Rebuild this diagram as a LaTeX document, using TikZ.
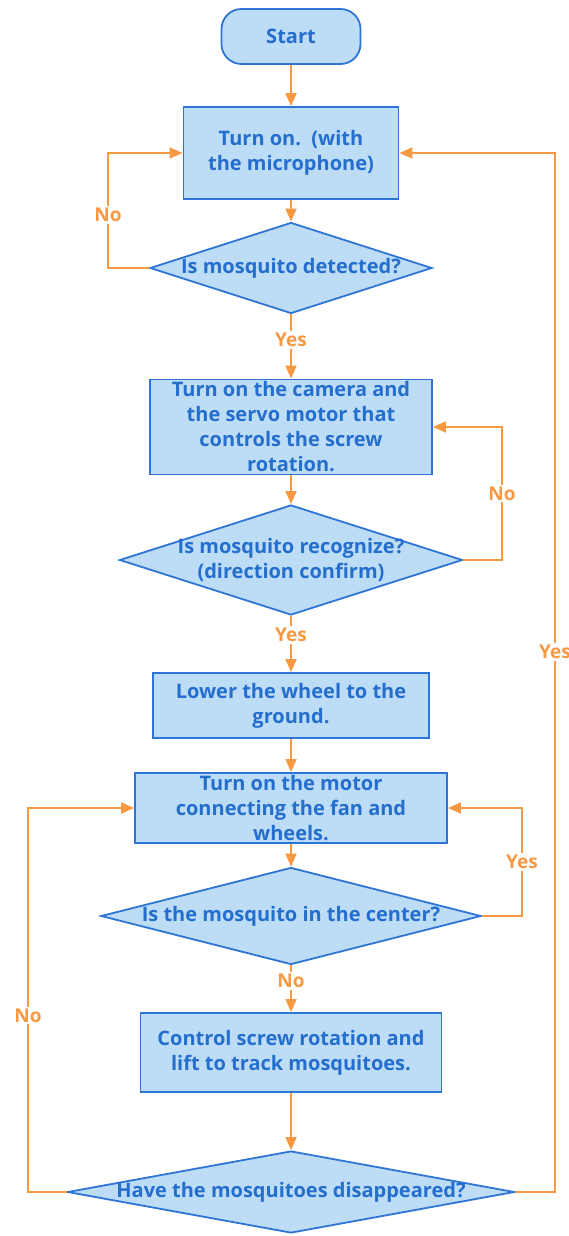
\documentclass[tikz,border=0pt]{standalone}
\usepackage{fontspec}
\setmainfont{Open Sans}
\usetikzlibrary{arrows.meta,shapes.geometric}
\definecolor{bfill}{RGB}{189,220,245}
\definecolor{bline}{RGB}{46,117,214}
\definecolor{btext}{RGB}{36,110,205}
\definecolor{org}{RGB}{247,153,66}
\tikzset{
  shp/.style={draw=bline,fill=bfill,line width=1.8pt,inner sep=0pt},
  procbox/.style={shp,rectangle},
  decide/.style={shp,diamond},
  termbox/.style={shp,rectangle,rounded corners=20pt},
  txt/.style={text=btext,font=\bfseries\fontsize{20}{25}\selectfont,align=center,inner sep=0pt},
  flow/.style={draw=org,line width=1.8pt,-{Triangle[length=13pt,width=11pt]}},
  lbl/.style={text=org,fill=white,font=\bfseries\fontsize{19}{22}\selectfont,inner sep=2pt}
}
\begin{document}
\begin{tikzpicture}[x=1pt,y=-1pt]
\useasboundingbox (0,0) rectangle (569,1236);
% shapes
\node[termbox,minimum width=139pt,minimum height=55pt] (start) at (291,36.5) {};
\node[procbox,minimum width=215pt,minimum height=92pt] (b1) at (291,153) {};
\node[decide,minimum width=282pt,minimum height=91pt] (d1) at (291,268) {};
\node[procbox,minimum width=282pt,minimum height=95pt] (b2) at (291,427) {};
\node[decide,minimum width=343pt,minimum height=110pt] (d2) at (291,560) {};
\node[procbox,minimum width=276pt,minimum height=65pt] (b3) at (291,705.5) {};
\node[procbox,minimum width=312pt,minimum height=70pt] (b4) at (291,808) {};
\node[decide,minimum width=380pt,minimum height=97pt] (d3) at (291,916) {};
\node[procbox,minimum width=301pt,minimum height=79pt] (b5) at (291,1052.5) {};
\node[decide,minimum width=447pt,minimum height=82pt] (d4) at (291,1192) {};
% texts
\node[txt] (tstart) at (start) {Start};
\node[txt] (tb1) at (b1) {Turn on.\ \ (with\\the microphone)};
\node[txt] (td1) at (d1) {Is mosquito detected?};
\node[txt] (tb2) at (b2) {Turn on the camera and\\the servo motor that\\controls the screw\\rotation.};
\node[txt] (td2) at (d2) {Is mosquito recognize?\\(direction confirm)};
\node[txt] (tb3) at (b3) {Lower the wheel to the\\ground.};
\node[txt] (tb4) at (b4) {Turn on the motor\\connecting the fan and\\wheels.};
\node[txt] (td3) at (d3) {Is the mosquito in the center?};
\node[txt] (tb5) at (b5) {Control screw rotation and\\lift to track mosquitoes.};
\node[txt] (td4) at (d4) {Have the mosquitoes disappeared?};
% straight flows
\draw[flow] (start) -- (b1);
\draw[flow] (b1) -- (d1);
\draw[flow] (d1) -- node[lbl,pos=0.4] (l1) {Yes} (b2);
\draw[flow] (b2) -- (d2);
\draw[flow] (d2) -- node[lbl,pos=0.34] (l2) {Yes} (b3);
\draw[flow] (b3) -- (b4);
\draw[flow] (b4) -- (d3);
\draw[flow] (d3) -- node[lbl,pos=0.34] (l3) {No} (b5);
\draw[flow] (b5) -- (d4);
% loops
\draw[flow] (d1.west) -| (108,153) node[pos=0.73,lbl] (l4) {No} -- (b1.west);
\draw[flow] (d2.east) -| (502,427) node[pos=0.75,lbl] (l5) {No} -- (b2.east);
\draw[flow] (d3.east) -| (522,808) node[pos=0.75,lbl] (l6) {Yes} -- (b4.east);
\draw[flow] (d4.west) -| (28,808) node[pos=0.73,lbl] (l7) {No} -- (b4.west);
\draw[flow] (d4.east) -| (555,153) node[pos=0.76,lbl] (l8) {Yes} -- (b1.east);
\end{tikzpicture}
\end{document}
